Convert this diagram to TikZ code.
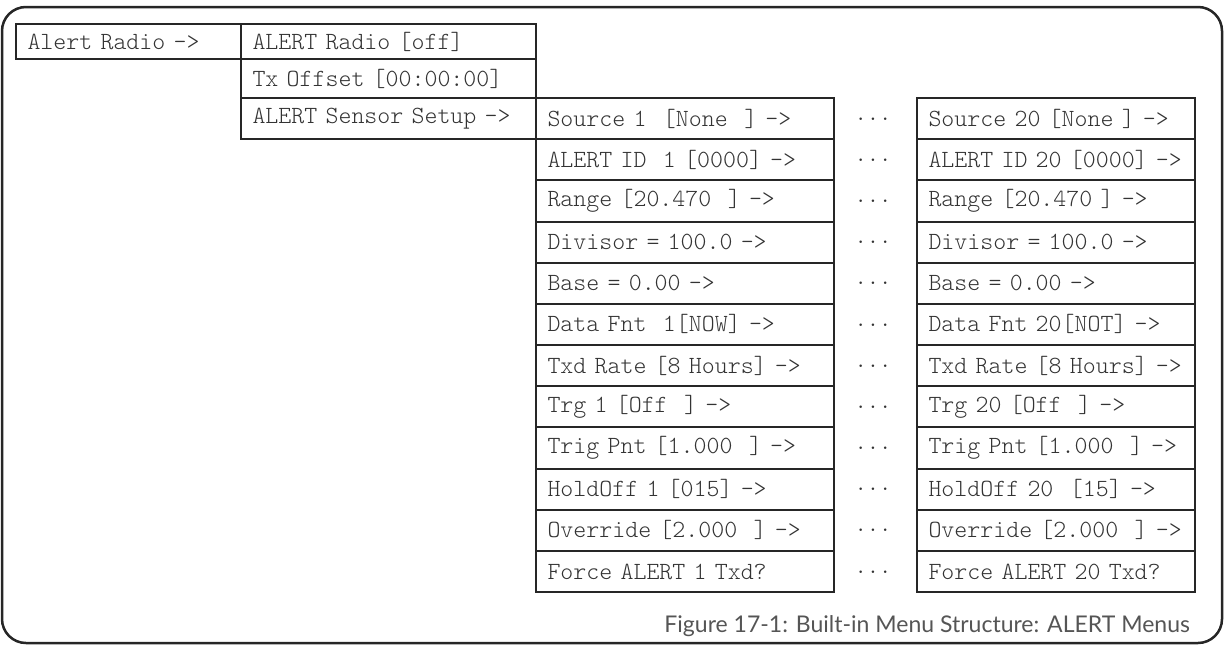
\documentclass[tikz,border=0pt]{standalone}
\usepackage{fontspec}
\newfontfamily\mono{lmmonolt10-regular.otf}
\newfontfamily\capfont{Lato}
\definecolor{boxc}{HTML}{262626}
\definecolor{txtc}{HTML}{333333}
\definecolor{capc}{HTML}{555555}
\begin{document}
\begin{tikzpicture}[x=1pt,y=-1pt,
  cell/.style={draw=boxc, line width=2pt, anchor=north west, inner xsep=11.5pt, inner ysep=0pt,
    align=left, font={\fontsize{24.7}{28}\selectfont\mono}, text=txtc},
  colone/.style={cell, text width=202pt, minimum height=35pt},
  coltwo/.style={cell, text width=272pt},
  colthree/.style={cell, text width=275pt, minimum height=41.17pt},
  colfour/.style={cell, text width=255pt, minimum height=41.17pt},
  dotsty/.style={font={\fontsize{23.5}{26}\selectfont\mono}, text=txtc, inner sep=0pt},
  frame/.style={draw=boxc, line width=2.5pt, rounded corners=24pt},
  captext/.style={font={\fontsize{23}{27}\selectfont\capfont}, text=capc, inner sep=0pt, anchor=base east}]
\useasboundingbox (0,0) rectangle (1225,645);
\draw[frame] (2,7) rectangle (1222,643);
% column 1
\node[colone] (alert) at (15,23) {\mbox{Alert Radio ->}};
% column 2
\node[coltwo, minimum height=35pt] (radio) at (240,23) {\mbox{ALERT Radio [off]}};
\node[coltwo, minimum height=39pt] (offset) at (240,58) {\mbox{Tx Offset [00:00:00]}};
\node[coltwo, minimum height=41.17pt] (setup) at (240,97) {\mbox{ALERT Sensor Setup ->}};
% column 3
\foreach \t [count=\i from 0] in {
  {Source 1~~[None~~]~->},
  {ALERT ID~~1 [0000] ->},
  {Range [20.470~~]~->},
  {Divisor = 100.0 ->},
  {Base = 0.00 ->},
  {Data Fnt~~1[NOW] ->},
  {Txd Rate [8 Hours] ->},
  {Trg 1 [Off~~]~->},
  {Trig Pnt [1.000~~]~->},
  {HoldOff 1 [015] ->},
  {Override [2.000~~]~->},
  {Force ALERT 1 Txd?}}
{ \node[colthree] (a\i) at (535,{97+41.17*\i}) {\mbox{\t}}; }
% dots
\foreach \i in {0,...,11}
{ \node[dotsty] (d\i) at (873,{119+41.17*\i}) {...}; }
% column 4
\foreach \t [count=\i from 0] in {
  {Source 20 [None ] ->},
  {ALERT ID 20 [0000] ->},
  {Range [20.470 ] ->},
  {Divisor = 100.0 ->},
  {Base = 0.00 ->},
  {Data Fnt 20[NOT] ->},
  {Txd Rate [8 Hours] ->},
  {Trg 20 [Off~~]~->},
  {Trig Pnt [1.000~~]~->},
  {HoldOff 20~~[15] ->},
  {Override [2.000~~]~->},
  {Force ALERT 20 Txd?}}
{ \node[colfour] (b\i) at (916,{97+41.17*\i}) {\mbox{\t}}; }
% caption
\node[captext] (cap) at (1190,632) {Figure 17-1: Built-in Menu Structure: ALERT Menus};
\end{tikzpicture}
\end{document}
